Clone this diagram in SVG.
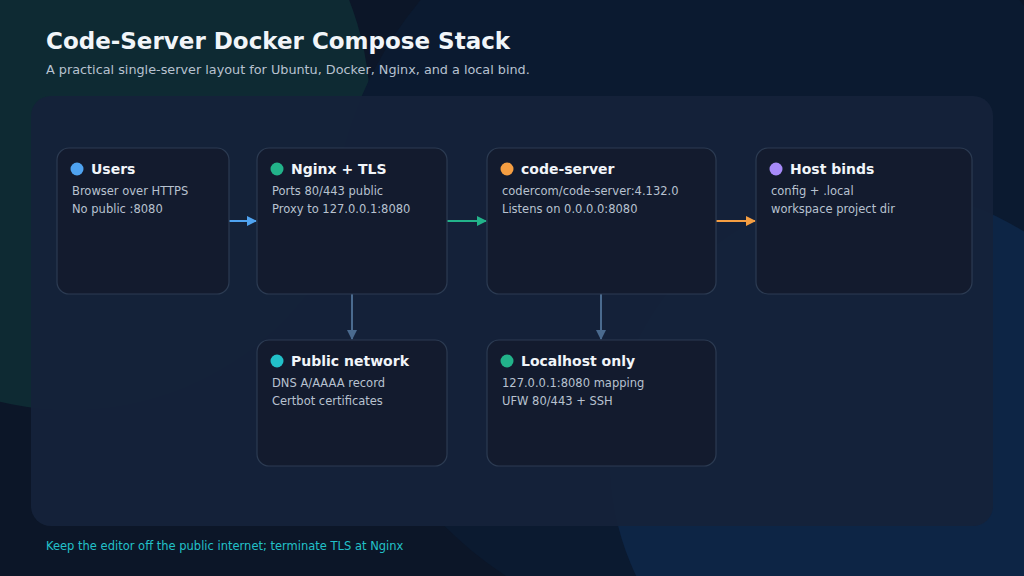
<svg xmlns="http://www.w3.org/2000/svg" width="1024" height="576" viewBox="0 0 1024 576">
<defs>
<style>
.node{fill:#131b2e;stroke:#2c3b52;stroke-width:1.2}
.t{font-family:"DejaVu Sans",sans-serif;font-weight:bold;font-size:14px;fill:#f1f5f9}
.s{font-family:"DejaVu Sans",sans-serif;font-size:11.5px;fill:#b8c2d0}
.c{fill:none;stroke-width:2}
</style>
<marker id="ab" viewBox="0 0 10 10" refX="9" refY="5" markerWidth="5" markerHeight="5" orient="auto"><path d="M0,0L10,5L0,10z" fill="#4fa3f0"/></marker>
<marker id="ag" viewBox="0 0 10 10" refX="9" refY="5" markerWidth="5" markerHeight="5" orient="auto"><path d="M0,0L10,5L0,10z" fill="#22b38a"/></marker>
<marker id="ao" viewBox="0 0 10 10" refX="9" refY="5" markerWidth="5" markerHeight="5" orient="auto"><path d="M0,0L10,5L0,10z" fill="#f59e42"/></marker>
<marker id="as" viewBox="0 0 10 10" refX="9" refY="5" markerWidth="5" markerHeight="5" orient="auto"><path d="M0,0L10,5L0,10z" fill="#4a6a8e"/></marker>
</defs>
<rect width="1024" height="576" fill="#0c1628"/>
<circle cx="70" cy="110" r="300" fill="#0e2a33"/>
<circle cx="720" cy="250" r="390" fill="#0b1a30"/>
<circle cx="880" cy="460" r="270" fill="#0d2545"/>
<text x="46" y="49" font-family="DejaVu Sans,sans-serif" font-weight="bold" font-size="23" fill="#f1f5f9">Code-Server Docker Compose Stack</text>
<text x="46" y="74" font-family="DejaVu Sans,sans-serif" font-size="12.8" fill="#b8c2d0">A practical single-server layout for Ubuntu, Docker, Nginx, and a local bind.</text>
<rect x="31" y="96" width="962" height="430" rx="20" fill="#15223a" opacity="0.97"/>
<g id="connectors">
<path class="c" stroke="#4fa3f0" d="M229,221H256" marker-end="url(#ab)"/>
<path class="c" stroke="#22b38a" d="M447,221H486" marker-end="url(#ag)"/>
<path class="c" stroke="#f59e42" d="M716,221H755" marker-end="url(#ao)"/>
<path class="c" stroke="#4a6a8e" d="M352,294V339" marker-end="url(#as)"/>
<path class="c" stroke="#4a6a8e" d="M601,294V339" marker-end="url(#as)"/>
</g>
<g id="users"><rect class="node" x="57" y="148" width="172" height="146" rx="12"/><circle cx="77" cy="169" r="6.5" fill="#4fa3f0"/><text class="t" x="91" y="174">Users</text><text class="s" x="72" y="195">Browser over HTTPS</text><text class="s" x="72" y="213">No public :8080</text></g>
<g id="nginx"><rect class="node" x="257" y="148" width="190" height="146" rx="12"/><circle cx="277" cy="169" r="6.5" fill="#22b38a"/><text class="t" x="291" y="174">Nginx + TLS</text><text class="s" x="272" y="195">Ports 80/443 public</text><text class="s" x="272" y="213">Proxy to 127.0.0.1:8080</text></g>
<g id="codeserver"><rect class="node" x="487" y="148" width="229" height="146" rx="12"/><circle cx="507" cy="169" r="6.5" fill="#f59e42"/><text class="t" x="521" y="174">code-server</text><text class="s" x="502" y="195">codercom/code-server:4.132.0</text><text class="s" x="502" y="213">Listens on 0.0.0.0:8080</text></g>
<g id="host"><rect class="node" x="756" y="148" width="216" height="146" rx="12"/><circle cx="776" cy="169" r="6.5" fill="#a78bfa"/><text class="t" x="790" y="174">Host binds</text><text class="s" x="771" y="195">config + .local</text><text class="s" x="771" y="213">workspace project dir</text></g>
<g id="public"><rect class="node" x="257" y="340" width="190" height="126" rx="12"/><circle cx="277" cy="361" r="6.5" fill="#22c1c9"/><text class="t" x="291" y="366">Public network</text><text class="s" x="272" y="387">DNS A/AAAA record</text><text class="s" x="272" y="405">Certbot certificates</text></g>
<g id="localhost"><rect class="node" x="487" y="340" width="229" height="126" rx="12"/><circle cx="507" cy="361" r="6.5" fill="#22b38a"/><text class="t" x="521" y="366">Localhost only</text><text class="s" x="502" y="387">127.0.0.1:8080 mapping</text><text class="s" x="502" y="405">UFW 80/443 + SSH</text></g>
<text x="46" y="550" font-family="DejaVu Sans,sans-serif" font-size="11.5" fill="#22c1c9">Keep the editor off the public internet; terminate TLS at Nginx</text>
</svg>
